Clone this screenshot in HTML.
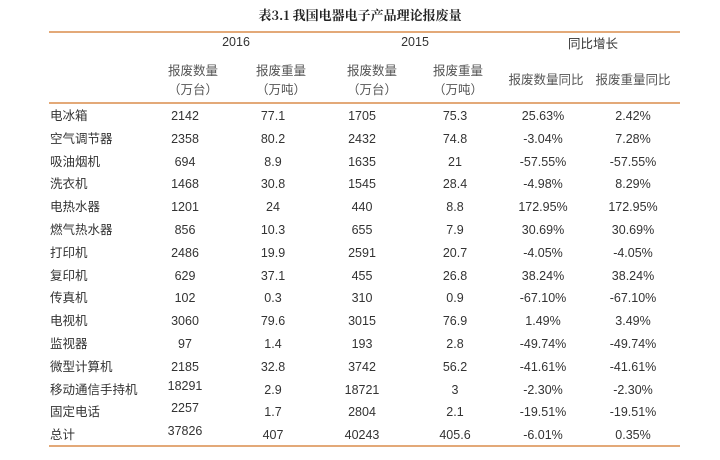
<!DOCTYPE html>
<html><head><meta charset="utf-8"><style>
body{margin:0;width:720px;height:460px;background:#fff;position:relative;overflow:hidden;font-family:"Liberation Sans","Noto Sans CJK SC",sans-serif;color:#333;}
.t,.l{position:absolute;font-size:12.5px;line-height:14px;height:14px;white-space:nowrap;}
.t{transform:translate(-50%,-50%);}
.l{transform:translateY(-50%);left:50px;}
.line{position:absolute;left:49px;width:631px;height:2px;background:#e3a978;}
.title{position:absolute;top:5px;left:0;width:720px;text-align:center;font-weight:bold;font-size:13px;font-family:"Noto Serif CJK SC",serif;color:#222;}
</style></head><body>
<div class="title">表3.1 我国电器电子产品理论报废量</div>
<div class="line" style="top:31px"></div>
<div class="line" style="top:102px"></div>
<div class="line" style="top:445px"></div>
<div class="t" style="left:236px;top:42px">2016</div>
<div class="t" style="left:415px;top:42px">2015</div>
<div class="t" style="left:593px;top:44px">同比增长</div>
<div class="t" style="left:193px;top:71px;color:#555">报废数量</div><div class="t" style="left:193px;top:90px;color:#555">（万台）</div>
<div class="t" style="left:281px;top:71px;color:#555">报废重量</div><div class="t" style="left:281px;top:90px;color:#555">（万吨）</div>
<div class="t" style="left:372px;top:71px;color:#555">报废数量</div><div class="t" style="left:372px;top:90px;color:#555">（万台）</div>
<div class="t" style="left:458px;top:71px;color:#555">报废重量</div><div class="t" style="left:458px;top:90px;color:#555">（万吨）</div>
<div class="t" style="left:546px;top:80px;color:#555">报废数量同比</div>
<div class="t" style="left:633px;top:80px;color:#555">报废重量同比</div>
<div id="rows"></div>
<script>
var d=[["电冰箱","2142","77.1","1705","75.3","25.63%","2.42%"],
["空气调节器","2358","80.2","2432","74.8","-3.04%","7.28%"],
["吸油烟机","694","8.9","1635","21","-57.55%","-57.55%"],
["洗衣机","1468","30.8","1545","28.4","-4.98%","8.29%"],
["电热水器","1201","24","440","8.8","172.95%","172.95%"],
["燃气热水器","856","10.3","655","7.9","30.69%","30.69%"],
["打印机","2486","19.9","2591","20.7","-4.05%","-4.05%"],
["复印机","629","37.1","455","26.8","38.24%","38.24%"],
["传真机","102","0.3","310","0.9","-67.10%","-67.10%"],
["电视机","3060","79.6","3015","76.9","1.49%","3.49%"],
["监视器","97","1.4","193","2.8","-49.74%","-49.74%"],
["微型计算机","2185","32.8","3742","56.2","-41.61%","-41.61%"],
["移动通信手持机","18291","2.9","18721","3","-2.30%","-2.30%"],
["固定电话","2257","1.7","2804","2.1","-19.51%","-19.51%"],
["总计","37826","407","40243","405.6","-6.01%","0.35%"]];
var xs=[185,273,362,455,543,633],h="";
d.forEach(function(r,i){var y=116+i*22.8;
h+='<div class="l" style="top:'+y+'px">'+r[0]+'</div>';
for(var j=1;j<7;j++){var yy=y;if(j==1&&i>=12)yy-=4;h+='<div class="t" style="left:'+xs[j-1]+'px;top:'+yy+'px">'+r[j]+'</div>';}});
document.getElementById('rows').innerHTML=h;
</script>
</body></html>
